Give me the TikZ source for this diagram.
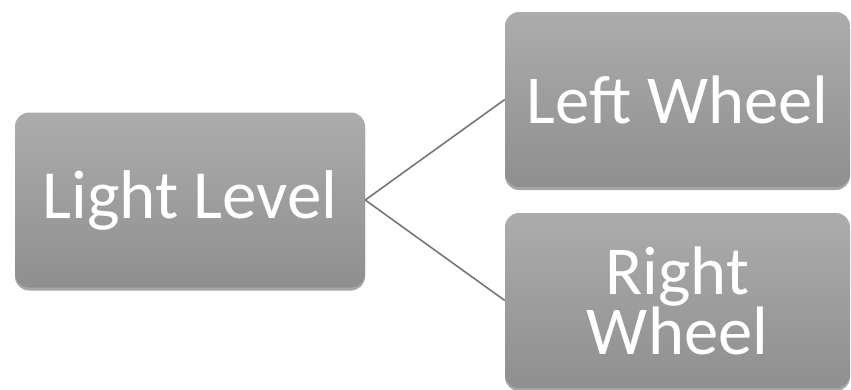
\documentclass[tikz,border=0pt]{standalone}
\usepackage{fontspec}
\setmainfont{Carlito}
\usetikzlibrary{shadows}

\definecolor{boxtop}{RGB}{172,172,172}
\definecolor{boxbot}{RGB}{143,143,143}
\definecolor{linkgray}{RGB}{118,118,118}

\begin{document}
\begin{tikzpicture}[x=1pt, y=-1pt,
        block/.style={rounded corners=14pt, top color=boxtop, bottom color=boxbot,
            draw=none, text=white, align=center, inner sep=0pt,
            drop shadow={shadow xshift=0pt, shadow yshift=-3pt, opacity=0.35, fill=black}},
        link/.style={draw=linkgray, line width=1.6pt}]
        \useasboundingbox (0,0) rectangle (851,389);

        \node[block, minimum width=350pt, minimum height=175pt, font=\fontsize{69}{60}\selectfont] (light) at (190,200) {Light Level};
        \node[block, minimum width=345pt, minimum height=175pt, font=\fontsize{68.6}{60}\selectfont] (left) at (677.5,99.5) {Left Wheel};
        \node[block, minimum width=345pt, minimum height=175pt, font=\fontsize{68.6}{60}\selectfont] (right) at (677.5,300.5) {Right\\Wheel};

        \draw[link] (light.east) -- (left.west);
        \draw[link] (light.east) -- (right.west);
    \end{tikzpicture}
\end{document}
